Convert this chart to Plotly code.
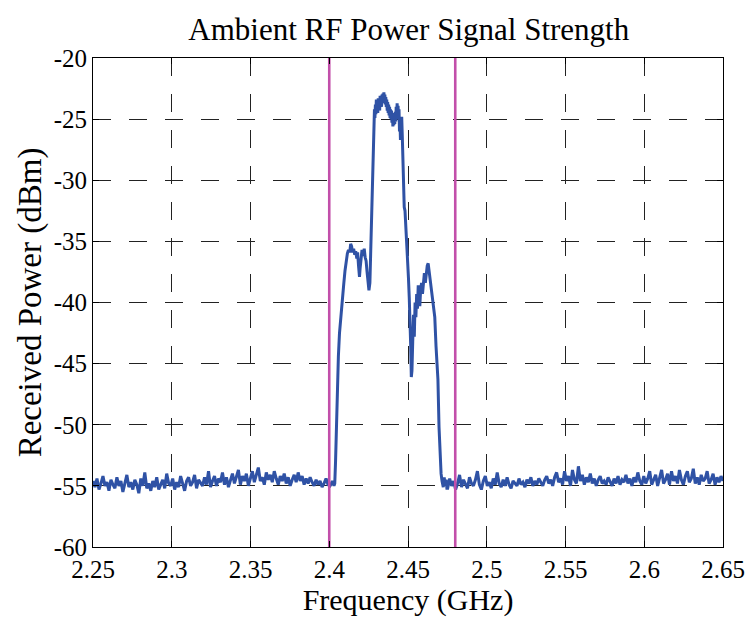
import numpy as np
import plotly.graph_objects as go

# ---------------- data ----------------
# noise floor below the ISM band (evenly spaced sweep points 2.25 -> 2.4005 GHz)
left_start, left_end = 2.25, 2.4005
left_noise = [
    -54.6, -55.1, -54.4, -55.3, -54.8, -54.2, -55.0, -54.7, -55.4, -54.5,
    -54.9, -55.2, -54.3, -55.0, -54.6, -55.5, -54.8, -54.1, -55.1, -54.7,
    -55.3, -54.5, -54.9, -55.6, -54.4, -55.0, -53.9, -55.2, -54.8, -55.4,
    -54.6, -55.1, -54.3, -55.3, -54.9, -54.5, -55.2, -54.0, -54.8, -55.0,
    -54.4, -55.3, -54.7, -55.1, -54.2, -54.9, -55.4, -54.6, -54.3, -55.0,
    -54.7, -54.1, -55.2, -54.5, -54.8, -55.0, -54.3, -54.9, -53.8, -55.1,
    -54.6, -54.2, -55.0, -54.4, -54.7, -53.9, -54.9, -54.3, -55.1, -54.5,
    -54.0, -54.8, -54.3, -53.7, -54.9, -54.2, -54.6, -54.0, -55.0, -54.4,
    -53.8, -54.7, -54.1, -53.5, -54.6, -54.3, -54.9, -53.9, -54.5, -54.1,
    -54.7, -53.8, -54.4, -54.9, -54.2, -54.6, -54.0, -54.8, -54.3, -55.0,
    -54.5, -54.1, -54.7, -53.9, -54.6, -54.2, -54.9, -54.4, -54.8, -54.3,
    -54.7, -55.0, -54.5, -54.9, -54.6, -55.1, -54.8, -54.4, -54.9, -55.0,
]

# occupied band (GHz, dBm)
band_freq = [
    2.4010, 2.4020, 2.4030, 2.4035, 2.4040, 2.4045, 2.4048, 2.4053, 2.4058, 2.4065,
    2.4075, 2.4085, 2.4092, 2.4100, 2.4108, 2.4115, 2.4122, 2.4130, 2.4136, 2.4142,
    2.4148, 2.4155, 2.4162, 2.4168, 2.4175, 2.4180, 2.4186, 2.4192, 2.4196, 2.4202,
    2.4208, 2.4215, 2.4222, 2.4228, 2.4234, 2.4240, 2.4246, 2.4252, 2.4258, 2.4263,
    2.4268, 2.4273, 2.4278, 2.4281, 2.4284, 2.4287, 2.4290, 2.4293, 2.4296, 2.4299,
    2.4302, 2.4305, 2.4308, 2.4311, 2.4314, 2.4317, 2.4320, 2.4323, 2.4326, 2.4329,
    2.4332, 2.4335, 2.4338, 2.4341, 2.4344, 2.4347, 2.4350, 2.4353, 2.4356, 2.4359,
    2.4362, 2.4365, 2.4368, 2.4371, 2.4374, 2.4377, 2.4380, 2.4383, 2.4386, 2.4389,
    2.4392, 2.4395, 2.4398, 2.4401, 2.4404, 2.4407, 2.4410, 2.4413, 2.4416, 2.4419,
    2.4422, 2.4425, 2.4428, 2.4431, 2.4434, 2.4437, 2.4440, 2.4443, 2.4446, 2.4449,
    2.4452, 2.4456, 2.4460, 2.4464, 2.4468, 2.4472, 2.4476, 2.4481, 2.4486, 2.4492,
    2.4498, 2.4503, 2.4508, 2.4513, 2.4517, 2.4521, 2.4525, 2.4530, 2.4535, 2.4540,
    2.4545, 2.4550, 2.4555, 2.4560, 2.4565, 2.4570, 2.4575, 2.4580, 2.4586, 2.4592,
    2.4598, 2.4604, 2.4610, 2.4616, 2.4622, 2.4628, 2.4634, 2.4640, 2.4646, 2.4652,
    2.4658, 2.4664, 2.4670, 2.4678, 2.4690, 2.4697, 2.4703, 2.4710, 2.4716, 2.4724,
    2.4730, 2.4736, 2.4742, 2.4747,
]
band_power = [
    -54.9, -54.6, -55.0, -54.8, -53.0, -50.5, -48.0, -46.0, -44.4, -42.5,
    -40.8, -39.6, -38.5, -37.4, -36.5, -36.0, -35.7, -35.9, -35.2, -35.4,
    -35.9, -35.6, -36.1, -35.8, -36.4, -35.9, -37.0, -37.9, -37.2, -36.0,
    -35.7, -36.2, -35.6, -36.3, -36.6, -37.5, -38.3, -39.0, -38.4, -36.0,
    -32.7, -29.0, -26.5, -25.0, -25.6, -24.2, -24.9, -23.8, -24.6, -23.4,
    -24.4, -23.6, -24.5, -23.3, -24.1, -23.5, -24.3, -23.1, -23.9, -23.2,
    -24.0, -23.0, -23.7, -22.9, -23.6, -22.8, -23.5, -23.0, -23.8, -23.2,
    -24.0, -23.4, -24.3, -23.6, -24.5, -23.8, -24.7, -24.0, -24.9, -24.2,
    -25.0, -24.3, -25.3, -24.5, -25.6, -24.8, -25.5, -24.6, -25.4, -24.4,
    -25.2, -24.0, -24.8, -23.7, -24.6, -23.9, -25.0, -24.2, -26.0, -25.0,
    -26.7, -25.2, -24.8, -26.5, -28.6, -31.0, -32.2, -32.5, -33.6, -34.9,
    -36.3, -38.0, -39.6, -41.4, -43.5, -46.1, -45.6, -43.2, -41.0, -42.8,
    -40.0, -41.2, -39.3, -40.5, -38.6, -39.8, -40.3, -39.0, -38.4, -39.3,
    -38.2, -37.6, -38.4, -37.3, -37.0, -36.8, -37.4, -37.9, -38.6, -39.4,
    -39.8, -40.6, -41.2, -43.6, -46.3, -50.2, -52.4, -54.0, -54.6, -55.1,
    -54.3, -55.0, -54.5, -55.2,
]

# noise floor above the ISM band (evenly spaced sweep points 2.4752 -> 2.65 GHz)
right_start, right_end = 2.4752, 2.65
right_noise = [
    -55.2, -54.4, -55.0, -54.6, -55.3, -54.8, -54.1, -55.1, -54.5, -54.9,
    -55.2, -54.3, -54.8, -55.0, -54.5, -53.8, -54.9, -55.3, -54.6, -54.2,
    -55.0, -54.7, -55.2, -54.4, -54.9, -53.9, -54.8, -55.1, -54.5, -55.0,
    -54.3, -54.9, -55.2, -54.6, -54.8, -55.0, -54.4, -54.9, -54.7, -55.1,
    -54.5, -54.8, -54.3, -55.0, -54.6, -54.9, -54.4, -54.7, -55.0, -54.5,
    -54.2, -54.8, -54.5, -55.0, -54.3, -53.9, -54.7, -54.4, -54.9, -53.8,
    -54.6, -54.2, -55.0, -53.7, -54.5, -54.8, -53.4, -54.6, -54.1, -54.9,
    -54.3, -54.7, -54.0, -54.8, -54.4, -55.0, -54.5, -54.2, -54.8, -54.6,
    -54.9, -54.3, -54.7, -55.0, -54.4, -54.8, -54.2, -54.9, -54.5, -54.7,
    -54.1, -54.8, -54.4, -55.0, -54.3, -54.7, -53.9, -54.6, -54.9, -54.2,
    -54.8, -54.4, -53.8, -54.9, -54.5, -54.1, -55.0, -54.3, -53.7, -54.8,
    -54.5, -54.0, -54.9, -53.8, -54.6, -54.2, -54.8, -53.7, -54.5, -54.9,
    -54.2, -53.8, -54.7, -54.4, -53.6, -54.8, -54.3, -54.9, -54.1, -54.6,
    -54.4, -53.8, -54.8, -54.5, -54.0, -54.9, -54.3, -54.7, -54.2, -54.6,
]

band_edges = [2.40, 2.48]          # GHz, ISM band limits
y_range = [-60, -20]
x_tick_vals = [2.25, 2.30, 2.35, 2.40, 2.45, 2.50, 2.55, 2.60, 2.65]
x_tick_text = ["2.25", "2.3", "2.35", "2.4", "2.45", "2.5", "2.55", "2.6", "2.65"]
y_tick_vals = [-60, -55, -50, -45, -40, -35, -30, -25, -20]
y_tick_text = ["-60", "-55", "-50", "-45", "-40", "-35", "-30", "-25", "-20"]

# ---------------- build ----------------
left_freq = np.linspace(left_start, left_end, len(left_noise))
right_freq = np.linspace(right_start, right_end, len(right_noise))
freq = np.concatenate([left_freq, band_freq, right_freq])
power = np.concatenate([left_noise, band_power, right_noise])

FONT = "Liberation Serif"
fig = go.Figure()
fig.add_trace(go.Scatter(x=freq, y=power, mode="lines",
                         line=dict(color="#2F52A5", width=3),
                         showlegend=False, hoverinfo="skip"))
for e in band_edges:
    fig.add_trace(go.Scatter(x=[e, e], y=y_range, mode="lines",
                             line=dict(color="#C24FAA", width=2.6),
                             showlegend=False, hoverinfo="skip"))

axis_common = dict(
    showline=True, linecolor="black", linewidth=1, mirror="ticks",
    ticks="inside", ticklen=6, tickcolor="black", tickwidth=1,
    showgrid=True, gridcolor="#222222", gridwidth=1, griddash="18px,18px",
    zeroline=False,
    tickfont=dict(family=FONT, size=25, color="black"),
)
fig.update_xaxes(range=[2.25, 2.65], tickvals=x_tick_vals, ticktext=x_tick_text,
                 title=dict(text="Frequency (GHz)", font=dict(family=FONT, size=30, color="black"),
                            standoff=5),
                 **axis_common)
fig.update_yaxes(range=y_range, tickvals=y_tick_vals, ticktext=y_tick_text,
                 title=dict(text="Received Power (dBm)", font=dict(family=FONT, size=33, color="black"),
                            standoff=2),
                 **axis_common)
fig.update_layout(
    width=750, height=617,
    margin=dict(l=93, r=27, t=58, b=70, autoexpand=False),
    paper_bgcolor="white", plot_bgcolor="white",
    title=dict(text="Ambient RF Power Signal Strength", x=0.545, xanchor="center",
               y=0.953, yanchor="middle",
               font=dict(family=FONT, size=31, color="black")),
)
fig.write_html("out.html")
